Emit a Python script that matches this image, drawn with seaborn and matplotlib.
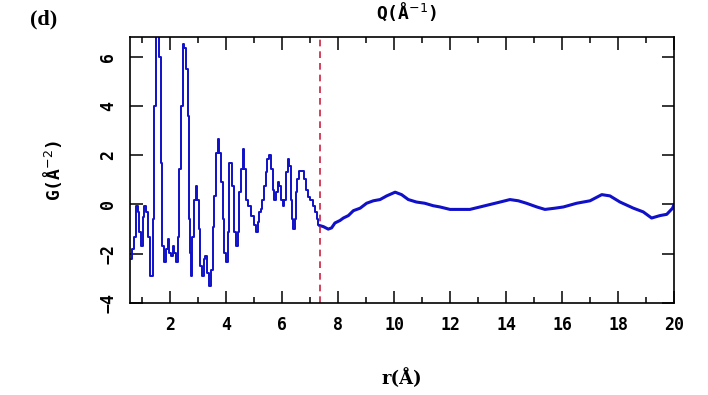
import numpy as np
import pandas as pd
import seaborn as sns
import matplotlib
matplotlib.use('Agg')
import matplotlib.pyplot as plt
from matplotlib.ticker import MultipleLocator

# G(r), short range part (step-like) and long range part
r_short = [0.60, 0.69, 0.75, 0.81, 0.87, 0.93, 0.99, 1.05, 1.11, 1.17, 1.23, 1.31, 1.38, 1.43,
           1.46, 1.52, 1.57, 1.64, 1.70, 1.74, 1.82, 1.88, 1.94, 2.00, 2.06, 2.12, 2.18, 2.24,
           2.30, 2.36, 2.42, 2.48, 2.54, 2.60, 2.65, 2.69, 2.74, 2.77, 2.83, 2.89, 2.95, 3.01,
           3.05, 3.10, 3.17, 3.23, 3.29, 3.35, 3.43, 3.49, 3.55, 3.61, 3.67, 3.73, 3.79, 3.85,
           3.90, 3.96, 4.05, 4.10, 4.14, 4.20, 4.26, 4.32, 4.38, 4.44, 4.50, 4.56, 4.62, 4.68,
           4.74, 4.86, 4.95, 5.04, 5.10, 5.15, 5.21, 5.27, 5.33, 5.39, 5.45, 5.51, 5.57, 5.63,
           5.69, 5.75, 5.81, 5.87, 5.93, 5.99, 6.05, 6.11, 6.17, 6.23, 6.29, 6.35, 6.38, 6.43,
           6.48, 6.52, 6.58, 6.64, 6.74, 6.82, 6.88, 6.94, 7.06, 7.14, 7.21, 7.26, 7.33]
g_short = [-2.2, -1.8, -1.3, -0.05, -0.3, -1.1, -1.7, -0.5, -0.05, -0.3, -1.3, -2.9, -2.9, -0.6,
           4.0, 6.9, 6.9, 6.0, 1.7, -1.7, -2.35, -1.8, -1.4, -1.95, -2.1, -1.7, -1.95, -2.35,
           -1.3, 1.45, 4.0, 6.5, 6.35, 5.5, 3.6, -0.6, -1.95, -2.9, -1.3, 0.2, 0.75, 0.2,
           -1.0, -2.5, -2.9, -2.2, -2.1, -2.8, -3.3, -2.65, -0.9, 0.35, 2.1, 2.65, 2.1, 0.9,
           -0.6, -1.95, -2.35, -1.1, 1.7, 1.7, 0.75, -1.1, -1.7, -1.1, 0.5, 1.45, 2.25, 1.45,
           0.2, -0.05, -0.45, -0.85, -1.1, -0.7, -0.3, -0.2, 0.2, 0.75, 1.3, 1.85, 2.0, 1.45,
           0.6, 0.2, 0.5, 0.9, 0.75, 0.2, -0.05, 0.2, 1.3, 1.85, 1.55, 0.2, -0.6, -1.0,
           -0.6, 0.5, 1.05, 1.35, 1.35, 1.05, 0.6, 0.3, 0.2, -0.05, -0.3, -0.6, -0.85]

r_long = [7.33, 7.48, 7.65, 7.77, 7.89, 8.07, 8.19, 8.37, 8.55, 8.79, 9.02, 9.26, 9.50, 9.74,
          10.04, 10.27, 10.51, 10.80, 11.10, 11.40, 11.64, 12.00, 12.36, 12.71, 13.07, 13.43,
          13.79, 14.14, 14.44, 14.73, 15.10, 15.39, 15.75, 16.05, 16.52, 17.00, 17.42, 17.71,
          18.07, 18.55, 18.90, 19.20, 19.50, 19.74, 19.95, 20.0]
g_long = [-0.85, -0.9, -1.0, -0.95, -0.75, -0.65, -0.55, -0.45, -0.25, -0.15, 0.05, 0.15, 0.2, 0.35,
          0.5, 0.4, 0.2, 0.1, 0.05, -0.05, -0.1, -0.2, -0.2, -0.2, -0.1, 0.0,
          0.1, 0.2, 0.15, 0.05, -0.1, -0.2, -0.15, -0.1, 0.05, 0.15, 0.4, 0.35,
          0.1, -0.15, -0.3, -0.55, -0.45, -0.4, -0.15, 0.0]

r_cut = 7.35

df_short = pd.DataFrame({'r': r_short, 'G': g_short})
df_long = pd.DataFrame({'r': r_long, 'G': g_long})

sns.set_style('ticks')
plt.rcParams['font.family'] = ['DejaVu Sans Mono', 'DejaVu Sans']
plt.rcParams['text.color'] = 'black'
plt.rcParams['axes.labelcolor'] = 'black'

fig = plt.figure(figsize=(7.08, 3.95), dpi=100)
ax = fig.add_axes([0.1836, 0.2329, 0.7684, 0.6734])

sns.lineplot(data=df_short, x='r', y='G', ax=ax, color='#1010c8', linewidth=1.4,
             drawstyle='steps-mid', estimator=None, sort=False)
sns.lineplot(data=df_long, x='r', y='G', ax=ax, color='#1010c8', linewidth=2.2,
             estimator=None, sort=False)
ax.axvline(r_cut, color='#cc2040', linestyle=(0, (4, 3)), linewidth=1.2)

ax.set_xlim(0.57, 20)
ax.set_ylim(-4, 6.8)
ax.xaxis.set_major_locator(MultipleLocator(2))
ax.xaxis.set_minor_locator(MultipleLocator(1))
ax.yaxis.set_major_locator(MultipleLocator(2))
ax.tick_params(which='both', direction='in', top=True, right=True, colors='black',
               labelsize=12, width=1.1)
ax.tick_params(which='major', length=9, pad=9)
ax.tick_params(which='minor', length=4.5)
for lab in ax.get_xticklabels() + ax.get_yticklabels():
    lab.set_fontweight('bold')
for lab in ax.get_yticklabels():
    lab.set_rotation(90)
    lab.set_va('center')
for s in ax.spines.values():
    s.set_linewidth(1.2)
    s.set_color('black')

ax.set_xlabel('r(Å)', fontsize=13, fontweight='bold', family='DejaVu Serif')
ax.set_ylabel('G(Å$^{-2}$)', fontsize=13, fontweight='bold')
ax.xaxis.set_label_coords(0.5, -0.245)
ax.yaxis.set_label_coords(-0.122, 0.5)

fig.text(0.061, 0.95, '(d)', fontsize=16, fontweight='bold', family='Liberation Serif',
         ha='center', va='center')
fig.text(0.575, 0.998, 'Q(Å$^{-1}$)', fontsize=13, fontweight='bold', ha='center', va='top')

fig.savefig('out.png', dpi=100)
